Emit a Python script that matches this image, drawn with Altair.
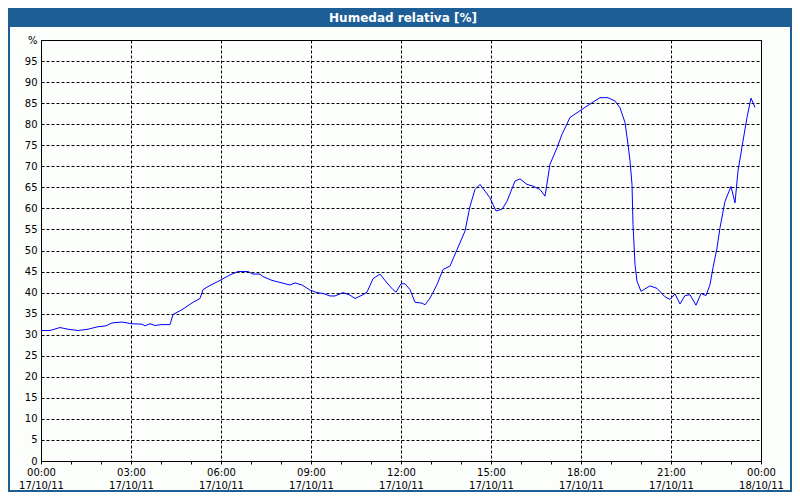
import altair as alt
import pandas as pd

# minutes after 17/10/11 00:00 and relative humidity (%)
minutes = [0, 18, 38, 54, 74, 94, 114, 130, 142, 162, 182, 202, 208, 218, 228, 242, 258,
           264, 272, 284, 304, 318, 324, 338, 358, 378, 394, 414, 424, 438, 444, 462, 482,
           488, 498, 508, 522, 538, 552, 564, 578, 588, 604, 618, 628, 644, 652, 664, 678,
           692, 704, 710, 720, 728, 738, 748, 762, 768, 778, 792, 804, 818, 832, 848, 858,
           868, 878, 888, 898, 910, 922, 932, 948, 958, 972, 984, 998, 1008, 1018, 1032,
           1042, 1058, 1078, 1098, 1118, 1134, 1148, 1158, 1168, 1174, 1178, 1182, 1184,
           1188, 1192, 1200, 1218, 1232, 1248, 1258, 1268, 1278, 1288, 1298, 1310, 1320,
           1330, 1338, 1344, 1352, 1358, 1368, 1380, 1388, 1394, 1404, 1412, 1420, 1428]
humidity = [31.0, 31.0, 31.7, 31.3, 31.0, 31.3, 31.9, 32.1, 32.8, 33.0, 32.6, 32.5, 32.1,
            32.6, 32.2, 32.4, 32.4, 34.8, 35.3, 36.1, 37.7, 38.6, 40.7, 41.7, 42.9, 44.2,
            45.0, 45.0, 44.4, 44.4, 43.8, 42.9, 42.3, 42.1, 41.8, 42.3, 41.8, 40.6, 40.0,
            39.8, 39.2, 39.2, 40.0, 39.4, 38.6, 39.5, 40.1, 43.3, 44.4, 42.3, 40.7, 40.1,
            42.1, 42.1, 40.7, 37.7, 37.5, 37.1, 38.7, 41.9, 45.5, 46.3, 50.2, 54.6, 60.5,
            64.5, 65.7, 64.1, 62.5, 59.4, 59.8, 61.7, 66.5, 67.0, 65.7, 65.3, 64.5, 62.9,
            70.5, 74.4, 77.6, 81.6, 83.2, 84.8, 86.3, 86.3, 85.5, 83.9, 80.4, 75.2, 71.3,
            65.7, 56.2, 46.7, 42.7, 40.3, 41.6, 41.0, 39.0, 38.4, 39.7, 37.3, 39.3, 39.5,
            37.0, 39.8, 39.3, 41.9, 45.9, 50.6, 55.4, 61.7, 65.2, 61.3, 68.9, 76.0, 81.6,
            86.2, 84.0]
title_text = ["Humedad relativa [%]"]
y_ticks = list(range(0, 101, 5))

FONT = "DejaVu Sans"
BLUE = "#1d5e96"

base = pd.Timestamp("2011-10-17 00:00")
df = pd.DataFrame({
    "time": [base + pd.Timedelta(minutes=m) for m in minutes],
    "hr": humidity,
})

hour_ticks = [alt.DateTime(year=2011, month=10, date=17, hours=h) for h in range(24)]
hour_ticks.append(alt.DateTime(year=2011, month=10, date=18, hours=0))

x_axis = alt.Axis(
    values=hour_ticks,
    grid=True,
    gridColor="black",
    gridDash=[3, 2],
    gridOpacity={"condition": {"test": "hours(datum.value) % 3 == 0", "value": 1}, "value": 0},
    labelExpr="hours(datum.value) % 3 == 0 ? [timeFormat(datum.value, '%H:%M'), timeFormat(datum.value, '%d/%m/%y')] : ''",
    tickSize=3,
    tickColor="black",
    domainColor="black",
    labelColor="black",
    labelFont=FONT,
    labelFontSize=10,
    labelPadding=3,
    labelLineHeight=13,
    labelAngle=0,
    labelOverlap=False,
    labelFlush=False,
    title=None,
)

y_axis = alt.Axis(
    values=y_ticks,
    grid=True,
    gridColor="black",
    gridDash=[3, 2],
    labelExpr="datum.value == 100 ? '%' : datum.label",
    tickSize=0,
    domainColor="black",
    labelColor="black",
    labelFont=FONT,
    labelFontSize=10,
    labelPadding=4,
    title=None,
)

line = alt.Chart(df).mark_line(color="#0000ff", strokeWidth=1).encode(
    x=alt.X("time:T", axis=x_axis,
            scale=alt.Scale(domain=[alt.DateTime(year=2011, month=10, date=17, hours=0),
                                    alt.DateTime(year=2011, month=10, date=18, hours=0)])),
    y=alt.Y("hr:Q", axis=y_axis, scale=alt.Scale(domain=[0, 100], nice=False)),
)

one = alt.Data(values=[{"t": title_text[0]}])

bar = alt.Chart(one).mark_rect(fill=BLUE).encode(
    x=alt.value(-33), x2=alt.value(751), y=alt.value(-32), y2=alt.value(-13)
)
frame = alt.Chart(one).mark_rect(fill="transparent", stroke=BLUE, strokeWidth=2).encode(
    x=alt.value(-32), x2=alt.value(750), y=alt.value(-31), y2=alt.value(451)
)
title = alt.Chart(one).mark_text(color="white", fontWeight="bold", fontSize=12, font=FONT).encode(
    x=alt.value(362), y=alt.value(-22), text="t:N"
)

chart = alt.layer(line, bar, frame, title).properties(
    width=720,
    height=421,
    autosize=alt.AutoSizeParams(type="none"),
    padding={"left": 33, "top": 32, "right": 31, "bottom": 31},
    background="#fcfefc",
).configure_view(stroke="black", strokeWidth=1)

chart.save("out.html", embed_options={"renderer": "svg", "actions": False})
